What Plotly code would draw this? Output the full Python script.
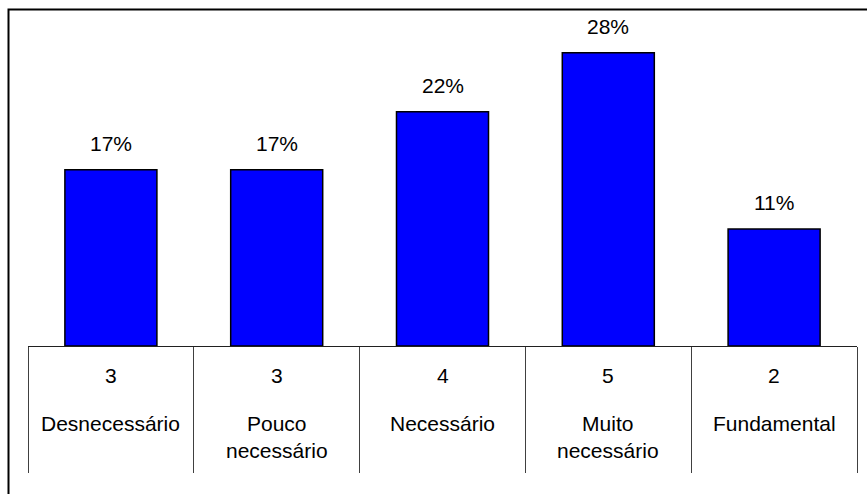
import plotly.graph_objects as go

# Survey answers: share of respondents per category and raw counts
categories = ["Desnecessário", "Pouco<br>necessário", "Necessário", "Muito<br>necessário", "Fundamental"]
counts = [3, 3, 4, 5, 2]
percentages = [16.7, 16.7, 22.2, 27.8, 11.1]

W, H = 867, 494
PLOT_L, PLOT_R = 28, 857
PLOT_T, PLOT_B = 20, 346
plot_w = PLOT_R - PLOT_L
plot_h = PLOT_B - PLOT_T
Y_MAX = plot_h / 10.55

font_family = "Arial, Liberation Sans, sans-serif"

fig = go.Figure(
    go.Bar(
        x=categories,
        y=percentages,
        width=0.555,
        marker=dict(color="#0000FF", line=dict(color="#000000", width=1.5)),
        hoverinfo="skip",
    )
)

annotations = []
# percentage labels above the bars
for cat, val in zip(categories, percentages):
    annotations.append(dict(
        x=cat, y=val, xref="x", yref="y",
        text=f"{round(val)}%", showarrow=False,
        yanchor="bottom", yshift=13,
        font=dict(family=font_family, size=21, color="#000000"),
    ))
# table rows under the axis: counts and category names
for cat, n in zip(categories, counts):
    annotations.append(dict(
        x=cat, y=0, xref="x", yref="paper",
        text=str(n), showarrow=False,
        yanchor="top", yshift=-16,
        font=dict(family=font_family, size=21, color="#000000"),
    ))
    annotations.append(dict(
        x=cat, y=0, xref="x", yref="paper",
        text=cat, showarrow=False,
        yanchor="top", yshift=-64,
        font=dict(family=font_family, size=21, color="#000000"),
    ))


def px_x(px):
    return (px - PLOT_L) / plot_w


def px_y(py):
    return (PLOT_B - py) / plot_h


# outer chart frame (extends past the right and bottom page edges)
shapes = [dict(
    type="rect", xref="paper", yref="paper",
    x0=px_x(8.5), x1=px_x(W + 20),
    y0=px_y(H + 20), y1=px_y(9.5),
    line=dict(color="#000000", width=2),
    fillcolor="rgba(0,0,0,0)",
)]

fig.update_layout(
    width=W, height=H,
    margin=dict(l=PLOT_L, r=W - PLOT_R, t=PLOT_T, b=H - PLOT_B, pad=0),
    paper_bgcolor="#FFFFFF",
    plot_bgcolor="#FFFFFF",
    showlegend=False,
    annotations=annotations,
    shapes=shapes,
    bargap=0.44,
)
fig.update_xaxes(
    showticklabels=False,
    tickson="boundaries",
    ticks="outside",
    ticklen=126,
    tickwidth=1,
    tickcolor="#404040",
    showline=True,
    linecolor="#202020",
    linewidth=1,
    showgrid=False,
    zeroline=False,
    fixedrange=True,
)
fig.update_yaxes(
    range=[0, Y_MAX],
    visible=False,
    showgrid=False,
    zeroline=False,
    fixedrange=True,
)

fig.write_html("out.html", config={"displayModeBar": False})
